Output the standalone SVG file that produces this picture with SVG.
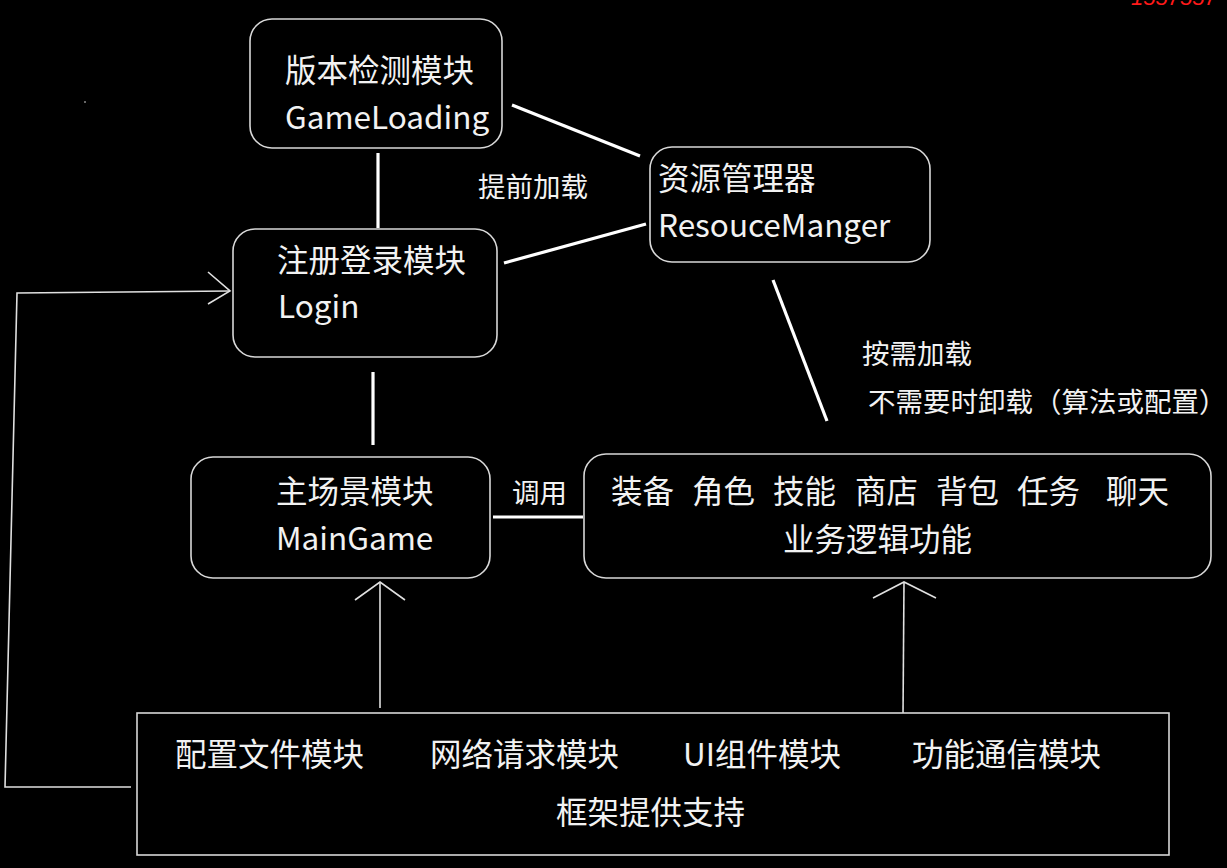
<svg xmlns="http://www.w3.org/2000/svg" width="1227" height="868" viewBox="0 0 1227 868">
<style>
.box{fill:#000;stroke:#d8d8d8;stroke-width:1.6}
.t{font-family:"Noto Sans CJK SC","Noto Sans",sans-serif;fill:#f2f2f2;font-size:31.5px}
.l{font-family:"Noto Sans CJK SC","Noto Sans",sans-serif;fill:#f2f2f2;font-size:27.5px}
.thick{stroke:#fff;stroke-width:3.2;fill:none;stroke-linecap:butt}
.thin{stroke:#e0e0e0;stroke-width:1.6;fill:none}
</style>
<rect x="0" y="0" width="1227" height="868" fill="#000"/>
<text x="1131" y="5" font-family="Liberation Sans, sans-serif" font-style="italic" font-size="22" fill="#ff1a1a">1557557</text>
<circle cx="85" cy="102" r="1" fill="#888"/>

<g id="connectors">
  <line class="thick" x1="378" y1="153" x2="378" y2="228"/>
  <line class="thick" x1="373" y1="372" x2="373" y2="445"/>
  <line class="thick" x1="512" y1="105" x2="640" y2="156"/>
  <line class="thick" x1="504" y1="263" x2="646" y2="224"/>
  <line class="thick" x1="773" y1="280" x2="827" y2="421"/>
  <line class="thick" x1="493" y1="517" x2="583" y2="517"/>
  <polyline class="thin" points="380,708 380,582"/>
  <polyline class="thin" points="355,600 380,582 405,600"/>
  <polyline class="thin" points="903,716 904,582"/>
  <polyline class="thin" points="873,598 904,582 936,598"/>
  <polyline class="thin" points="131,787 5,787 17,293 230,291"/>
  <polyline class="thin" points="208,272 230,291 208,304"/>
  <text class="l" x="478" y="197">提前加载</text>
  <text class="l" x="862" y="364">按需加载</text>
  <text class="l" x="868" y="412">不需要时卸载<tspan x="1034">（算法或配置）</tspan></text>
  <text class="l" x="512" y="503">调用</text>
</g>

<g id="gameloading">
  <rect class="box" x="250" y="19" width="252" height="129" rx="22"/>
  <text class="t" x="285" y="82">版本检测模块</text>
  <text class="t" x="285" y="129">GameLoading</text>
</g>

<g id="resourcemanager">
  <rect class="box" x="650" y="147" width="280" height="115" rx="22"/>
  <text class="t" x="658" y="190">资源管理器</text>
  <text class="t" x="658" y="237">ResouceManger</text>
</g>

<g id="login">
  <rect class="box" x="233" y="229" width="264" height="128" rx="22"/>
  <text class="t" x="277" y="272">注册登录模块</text>
  <text class="t" x="278" y="318">Login</text>
</g>

<g id="maingame">
  <rect class="box" x="191" y="457" width="299" height="121" rx="22"/>
  <text class="t" x="276" y="503">主场景模块</text>
  <text class="t" x="276" y="550">MainGame</text>
</g>

<g id="business">
  <rect class="box" x="584" y="454" width="627" height="124" rx="22"/>
  <text class="t" y="503"><tspan x="611">装备</tspan><tspan x="692">角色</tspan><tspan x="773">技能</tspan><tspan x="855">商店</tspan><tspan x="936">背包</tspan><tspan x="1017">任务</tspan><tspan x="1106">聊天</tspan></text>
  <text class="t" x="783" y="551">业务逻辑功能</text>
</g>

<g id="framework">
  <rect class="box" x="137" y="713" width="1032" height="142"/>
  <text class="t" x="175" y="766">配置文件模块</text>
  <text class="t" x="430" y="766">网络请求模块</text>
  <text class="t" x="683" y="766">UI组件模块</text>
  <text class="t" x="912" y="766">功能通信模块</text>
  <text class="t" x="556" y="824">框架提供支持</text>
</g>
</svg>
